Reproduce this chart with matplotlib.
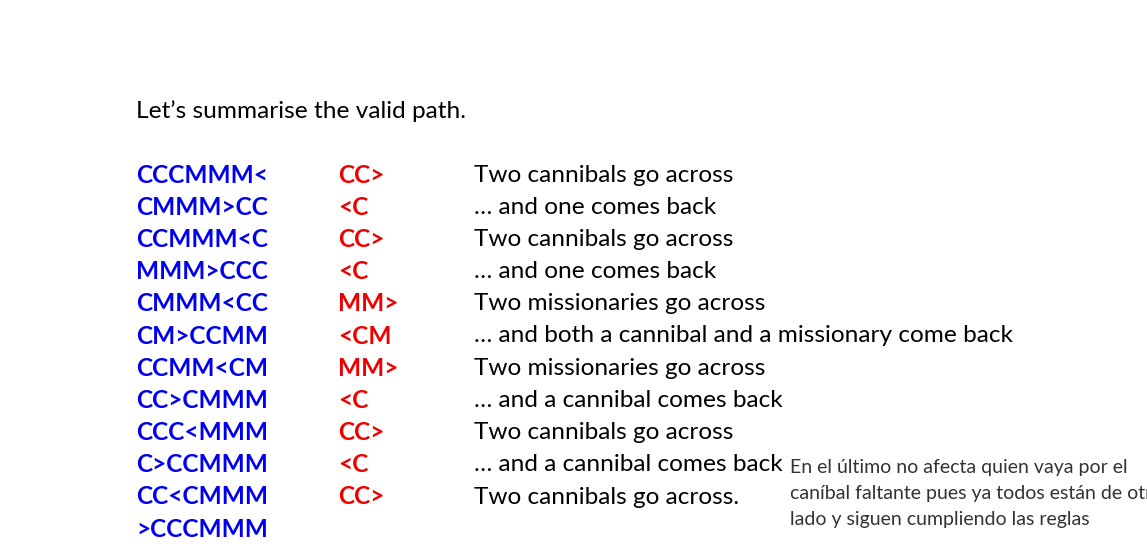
import matplotlib.pyplot as plt

states = ["CCCMMM<", "CMMM>CC", "CCMMM<C", "MMM>CCC", "CMMM<CC", "CM>CCMM",
          "CCMM<CM", "CC>CMMM", "CCC<MMM", "C>CCMMM", "CC<CMMM", ">CCCMMM"]
moves = ["CC>", "<C", "CC>", "<C", "MM>", "<CM", "MM>", "<C", "CC>", "<C", "CC>", ""]
notes = ["Two cannibals go across", "\u2026 and one comes back",
         "Two cannibals go across", "\u2026 and one comes back",
         "Two missionaries go across",
         "\u2026 and both a cannibal and a missionary come back",
         "Two missionaries go across", "\u2026 and a cannibal comes back",
         "Two cannibals go across", "\u2026 and a cannibal comes back",
         "Two cannibals go across.", ""]
comment = ["En el último no afecta quien vaya por el",
           "caníbal faltante pues ya todos están de otro",
           "lado y siguen cumpliendo las reglas"]

W, H = 1147, 544
fig = plt.figure(figsize=(W / 100, H / 100), dpi=100)
fig.patch.set_facecolor("white")
font = "Lato"

def put(x, y, s, **kw):
    fig.text(x / W, 1 - y / H, s, va="center", ha="left", family=font, **kw)

put(136, 111, "Let\u2019s summarise the valid path.", fontsize=17.6, color="black")
for i in range(len(states)):
    y = 175 + i * 32.2
    put(136, y, states[i], fontsize=17.6, color="#0000ee", weight="bold")
    put(338, y, moves[i], fontsize=17.6, color="#ee0000", weight="bold")
    put(474, y, notes[i], fontsize=17.6, color="black")
for i, line in enumerate(comment):
    put(790, 468 + i * 26, line, fontsize=14, color="#333333")

fig.savefig("out.png", dpi=100, facecolor="white")
